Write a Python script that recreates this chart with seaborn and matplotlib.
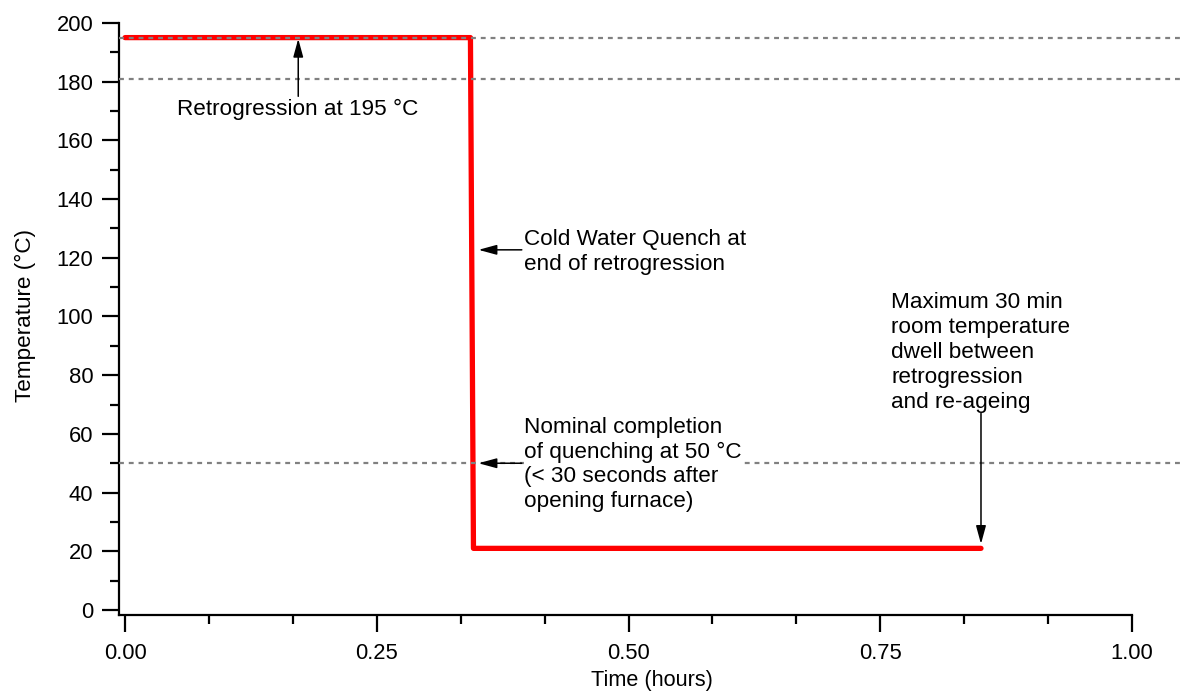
import matplotlib
matplotlib.use("Agg")
import matplotlib.pyplot as plt
import seaborn as sns
import pandas as pd
from matplotlib.ticker import MultipleLocator, FixedLocator

# Data
time_hours = [0.0, 0.343, 0.346, 0.85]
temperature = [195, 195, 21, 21]
ref_levels = [195, 181, 50]
x_ticks = [0.0, 0.25, 0.5, 0.75, 1.0]
x_tick_labels = ["0.00", "0.25", "0.50", "0.75", "1.00"]
y_ticks = [0, 20, 40, 60, 80, 100, 120, 140, 160, 180, 200]

sns.set_theme(style="ticks")
plt.rcParams['font.family'] = ['Liberation Sans', 'DejaVu Sans']
plt.rcParams['text.color'] = 'black'
plt.rcParams['axes.labelcolor'] = 'black'

fig = plt.figure(figsize=(11.86, 6.96), dpi=100)
ax = fig.add_axes([119/1186, (696-615)/696, (1184-119)/1186, (615-15)/696])

df = pd.DataFrame({"Time": time_hours, "Temp": temperature})

sns.lineplot(data=df, x="Time", y="Temp", sort=False, estimator=None,
             color="#ff0000", lw=3.8, ax=ax, zorder=2)

for lv in ref_levels:
    ax.axhline(lv, color="#808080", lw=1.6, ls=(0, (2.2, 2.2)), zorder=3)

ax.set_xlim(-0.006, 1.0516)
ax.set_ylim(-1.7, 202.7)
ax.spines["top"].set_visible(False)
ax.spines["right"].set_visible(False)
ax.spines["left"].set_bounds(-1.7, 200)
ax.spines["bottom"].set_bounds(-0.006, 1.0)
for s in ["left", "bottom"]:
    ax.spines[s].set_linewidth(1.6)
    ax.spines[s].set_color("black")

ax.xaxis.set_major_locator(FixedLocator(x_ticks))
ax.set_xticklabels(x_tick_labels)
ax.xaxis.set_minor_locator(FixedLocator([i / 12 for i in range(13)]))
ax.yaxis.set_major_locator(FixedLocator(y_ticks))
ax.yaxis.set_minor_locator(MultipleLocator(10))
ax.tick_params(which="major", length=12.5, width=1.6, color="black", labelsize=15.8, labelcolor="black")
ax.tick_params(which="minor", length=6.5, width=1.6, color="black")
ax.tick_params(axis="x", which="major", pad=8)
ax.tick_params(axis="y", which="major", pad=6)

ax.set_xlabel("Time (hours)", fontsize=15.6, labelpad=4, color="black")
ax.set_ylabel("Temperature (°C)", fontsize=16.2, labelpad=15, color="black")

ap = dict(arrowstyle="-|>,head_length=0.55,head_width=0.15", color="black",
          lw=1.1, mutation_scale=20, shrinkA=0, shrinkB=0)

fs = 16.2
ls = 1.24

ax.annotate("", xy=(0.172, 194.6), xytext=(0.172, 175), arrowprops=ap, zorder=4)
ax.text(0.052, 170.5, "Retrogression at 195 °C", fontsize=fs, va="center", ha="left")

ax.annotate("", xy=(0.351, 122.7), xytext=(0.394, 122.7), arrowprops=ap, zorder=4)
ax.text(0.396, 122.0, "Cold Water Quench at\nend of retrogression", fontsize=fs,
        va="center", ha="left", linespacing=ls)

ax.text(0.396, 49.6, "Nominal completion\nof quenching at 50 °C\n(< 30 seconds after\nopening furnace)",
        fontsize=fs, va="center", ha="left", linespacing=ls, zorder=4,
        bbox=dict(facecolor="white", edgecolor="none", pad=0))
ax.annotate("", xy=(0.351, 50), xytext=(0.394, 50), arrowprops=ap, zorder=5)

ax.annotate("", xy=(0.85, 22.5), xytext=(0.85, 67), arrowprops=ap, zorder=4)
ax.text(0.761, 87.7, "Maximum 30 min\nroom temperature\ndwell between\nretrogression\nand re-ageing",
        fontsize=fs, va="center", ha="left", linespacing=ls)

fig.savefig("out.png", dpi=100)
